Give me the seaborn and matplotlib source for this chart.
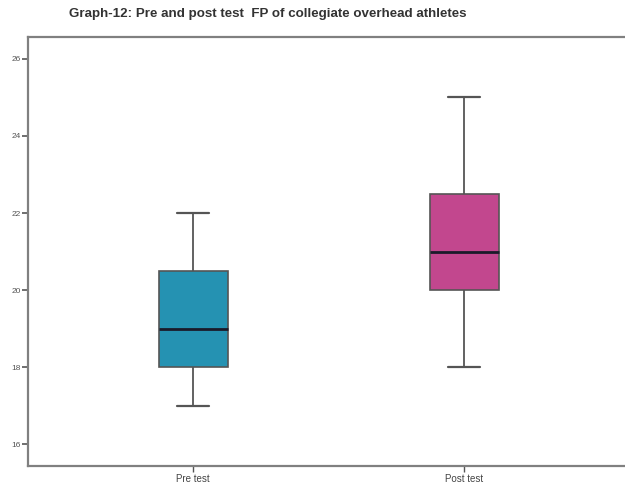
import numpy as np
import pandas as pd
import matplotlib
matplotlib.use("Agg")
import matplotlib.pyplot as plt
import seaborn as sns

# FP scores per group (five-number summary of each test)
groups = ["Pre test", "Post test"]
pre_scores = [17, 18, 19, 20.5, 22]
post_scores = [18, 20, 21, 22.5, 25]
box_colors = ["#2592b2", "#c2478e"]
y_ticks = [16, 18, 20, 22, 24, 26]

df = pd.DataFrame({
    "group": ["Pre test"] * len(pre_scores) + ["Post test"] * len(post_scores),
    "FP": pre_scores + post_scores,
})

sns.set_style("white")
plt.rcParams["font.family"] = ["Liberation Sans", "DejaVu Sans"]

fig = plt.figure(figsize=(6.25, 4.87), dpi=100)
ax = fig.add_axes([0.045, 0.043, 0.955, 0.881])

sns.boxplot(
    data=df, x="group", y="FP", order=groups, hue="group", hue_order=groups,
    palette=box_colors, saturation=1, legend=False, width=0.255, whis=1.5, ax=ax,
    linecolor="#555555", linewidth=1.2,
    medianprops={"color": "#1a1a2a", "linewidth": 2.0},
    whiskerprops={"color": "#555555", "linewidth": 1.3},
    capprops={"color": "#555555", "linewidth": 1.6},
    capwidths=0.12, showfliers=False,
)

ax.set_xlim(-0.609, 1.594)
ax.set_ylim(15.43, 26.57)
ax.set_yticks(y_ticks)
ax.set_yticklabels([str(t) for t in y_ticks])
ax.set_xlabel("")
ax.set_ylabel("")

for side in ["left", "bottom", "top"]:
    ax.spines[side].set_visible(True)
    ax.spines[side].set_color("#808080")
    ax.spines[side].set_linewidth(1.6)
ax.spines["right"].set_visible(False)

ax.tick_params(axis="y", which="both", left=True, length=4, width=1.2,
               color="#555555", labelsize=6, labelcolor="#555555", pad=1)
ax.tick_params(axis="x", which="both", bottom=True, length=4, width=1.0,
               color="#555555", labelsize=7, labelcolor="#444444", pad=2)

fig.text(268 / 625, 1 - 14 / 487,
         "Graph-12: Pre and post test  FP of collegiate overhead athletes",
         ha="center", va="center", fontsize=9.6, fontweight="bold", color="#333333")

fig.savefig("out.png", dpi=100)
